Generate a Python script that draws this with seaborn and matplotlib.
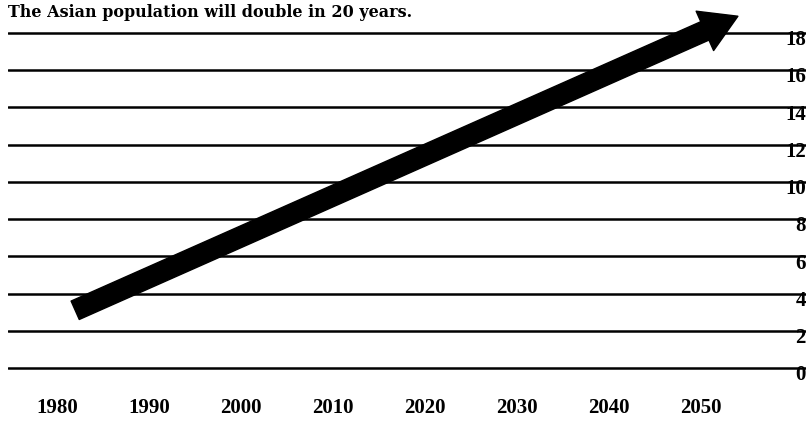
#%% packages
import matplotlib
matplotlib.use("Agg")
import matplotlib.pyplot as plt
import matplotlib.transforms as mtransforms
import seaborn as sns

#%% data
years = [1980, 1990, 2000, 2010, 2020, 2030, 2040, 2050]
y_ticks = [0, 2, 4, 6, 8, 10, 12, 14, 16, 18]
arrow_start = (1982, 3.1)
arrow_end = (2054, 18.9)
title = "The Asian population will double in 20 years."

#%% style
sns.set_theme(style="white", rc={"text.color": "black", "xtick.color": "black",
                                 "ytick.color": "black"})
plt.rcParams['font.family'] = ['Liberation Serif', 'DejaVu Serif']
plt.rcParams['font.weight'] = 'bold'

fig = plt.figure(figsize=(8.08, 4.22), dpi=100)
ax = fig.add_axes([8 / 808, 0.106, 798 / 808, 0.882])

ax.set_xlim(1974.7, 2061.4)
ax.set_ylim(-0.5, 19.5)

# horizontal rules
ax.set_yticks(y_ticks)
ax.yaxis.grid(True, color="black", linewidth=1.8)
ax.xaxis.grid(False)
ax.set_axisbelow(True)

ax.set_xticks(years)
ax.set_xticklabels([str(y) for y in years], fontsize=15, fontweight="bold")
ax.tick_params(axis="x", length=0, pad=15)

ax.yaxis.tick_right()
ax.set_yticklabels([str(v) for v in y_ticks], fontsize=15, fontweight="bold")
ax.tick_params(axis="y", length=0, pad=0)
shift_up = mtransforms.ScaledTranslation(0, 2 / 72, fig.dpi_scale_trans)
for lab in ax.get_yticklabels():
    lab.set_horizontalalignment("right")
    lab.set_verticalalignment("top")
    lab.set_transform(lab.get_transform() + shift_up)

sns.despine(ax=ax, left=True, right=True, top=True, bottom=True)

#%% the big arrow
ax.annotate("", xy=arrow_end, xytext=arrow_start,
            arrowprops=dict(arrowstyle="simple,head_length=2.6,head_width=3.1,tail_width=1.45",
                            mutation_scale=10, color="black", shrinkA=0, shrinkB=0),
            zorder=5)

fig.text(8 / 808, 1 - 4 / 422, title, ha="left", va="top",
         fontsize=11.5, fontweight="bold", family="DejaVu Serif")

fig.savefig("out.png", dpi=100)
